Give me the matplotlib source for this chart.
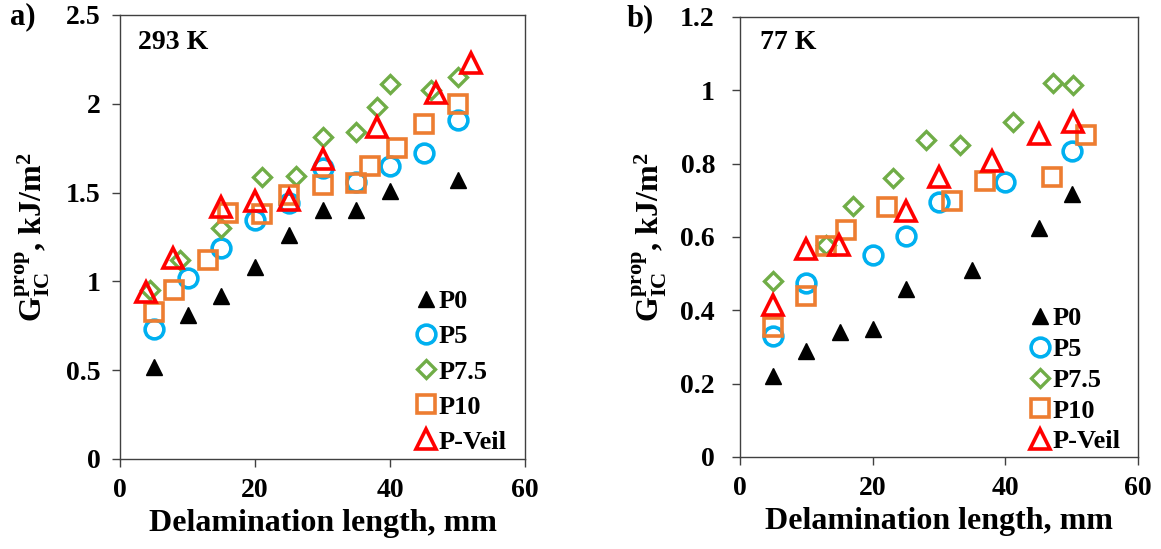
import numpy as np
import matplotlib
matplotlib.use("Agg")
import matplotlib.pyplot as plt

plt.rcParams['font.family'] = 'Liberation Serif'
plt.rcParams['font.weight'] = 'bold'
plt.rcParams['mathtext.fontset'] = 'custom'
plt.rcParams['mathtext.rm'] = 'Liberation Serif:bold'
plt.rcParams['mathtext.bf'] = 'Liberation Serif:bold'
plt.rcParams['mathtext.it'] = 'Liberation Serif:bold'

# ---- 293 K data ----
a_p0_x = [5, 10, 15, 20, 25, 30, 35, 40, 50]
a_p0_y = [0.52, 0.81, 0.92, 1.08, 1.26, 1.40, 1.40, 1.51, 1.57]
a_p5_x = [5, 10, 15, 20, 25, 30, 35, 40, 45, 50]
a_p5_y = [0.73, 1.02, 1.19, 1.345, 1.44, 1.64, 1.56, 1.65, 1.725, 1.91]
a_p75_x = [4.5, 8.9, 14.9, 21.1, 26, 30, 35, 38, 40, 46, 50]
a_p75_y = [0.95, 1.12, 1.30, 1.59, 1.595, 1.815, 1.84, 1.98, 2.11, 2.08, 2.15]
a_p10_x = [5, 8, 13, 16, 21, 25, 30, 35, 37, 41, 45, 50]
a_p10_y = [0.83, 0.95, 1.12, 1.387, 1.378, 1.486, 1.543, 1.556, 1.65, 1.753, 1.885, 1.997]
a_pv_x = [3.9, 7.9, 15, 20, 25, 30, 38, 46.8, 52]
a_pv_y = [0.94, 1.13, 1.42, 1.45, 1.46, 1.69, 1.87, 2.06, 2.23]

# ---- 77 K data ----
b_p0_x = [5, 10, 15, 20, 25, 35, 45, 50]
b_p0_y = [0.222, 0.29, 0.34, 0.349, 0.458, 0.511, 0.625, 0.717]
b_p5_x = [5, 10, 20, 25, 30, 40, 50]
b_p5_y = [0.329, 0.475, 0.552, 0.604, 0.695, 0.75, 0.835]
b_p75_x = [5, 12.9, 17, 23.1, 28.1, 33.1, 41.1, 47.2, 50.2]
b_p75_y = [0.479, 0.577, 0.684, 0.761, 0.865, 0.852, 0.913, 1.02, 1.014]
b_p10_x = [5, 10, 13, 16, 22.1, 32, 37, 47.1, 52.1]
b_p10_y = [0.355, 0.438, 0.575, 0.62, 0.682, 0.697, 0.754, 0.765, 0.879]
b_pv_x = [5, 10, 14.9, 25, 30, 38, 45.1, 50.2]
b_pv_y = [0.415, 0.567, 0.579, 0.67, 0.765, 0.806, 0.881, 0.914]

labels = ['P0', 'P5', 'P7.5', 'P10', 'P-Veil']

W, H = 1161, 549
fig = plt.figure(figsize=(W / 100, H / 100), dpi=100)
ax1 = fig.add_axes([120 / W, 1 - 459 / H, 405 / W, 444 / H])
ax2 = fig.add_axes([740 / W, 1 - 457 / H, 398 / W, 440 / H])


def draw(ax, series, ylim, yticks, ytl, title, tpos, lspace, lanchor, ypad, ylpad):
    styles = [
        dict(marker='^', color='black', ms=12, mfc='black', mec='black', mew=1),
        dict(marker='o', color='#00B0F0', ms=13.5, mfc='none', mec='#00B0F0', mew=2.6),
        dict(marker='D', color='#70AD47', ms=9.5, mfc='none', mec='#70AD47', mew=2.4),
        dict(marker='s', color='#ED7D31', ms=13.5, mfc='none', mec='#ED7D31', mew=2.6),
        dict(marker='^', color='#FF0000', ms=14, mfc='none', mec='#FF0000', mew=2.6),
    ]
    for (x, y), st, lab in zip(series, styles, labels):
        ax.plot(x, y, linestyle='none', label=lab, **st)
    ax.set_xlim(0, 60)
    ax.set_ylim(*ylim)
    ax.set_xticks([0, 20, 40, 60])
    ax.set_yticks(yticks)
    ax.set_yticklabels(ytl)
    ax.tick_params(direction='out', length=6, width=1, colors='#404040',
                   labelcolor='black', labelsize=20)
    ax.tick_params(axis='x', pad=8)
    ax.tick_params(axis='y', pad=ypad)
    for s in ax.spines.values():
        s.set_color('#404040')
        s.set_linewidth(1)
    for t in ax.get_xticklabels() + ax.get_yticklabels():
        t.set_fontweight('bold')
    ax.set_xlabel('Delamination length, mm', fontsize=23, fontweight='bold', labelpad=4)
    ax.set_ylabel(r'$\mathrm{G_{IC}^{prop}}$, kJ/m$^\mathrm{2}$', fontsize=23,
                  fontweight='bold', labelpad=ylpad)
    ax.text(tpos[0], tpos[1], title, transform=ax.transAxes, fontsize=20,
            fontweight='bold', va='center', ha='left')
    ax.legend(loc='lower right', bbox_to_anchor=lanchor, frameon=False,
              handletextpad=0.02, handlelength=0.9, labelspacing=lspace,
              borderaxespad=0, borderpad=0, prop={'weight': 'bold', 'size': 19})


draw(ax1, [(a_p0_x, a_p0_y), (a_p5_x, a_p5_y), (a_p75_x, a_p75_y),
           (a_p10_x, a_p10_y), (a_pv_x, a_pv_y)],
     (0, 2.5), [0, 0.5, 1, 1.5, 2, 2.5], ['0', '0.5', '1', '1.5', '2', '2.5'],
     '293 K', (0.044, 0.939), 0.44, (0.955, 0.012), 8, 10)
draw(ax2, [(b_p0_x, b_p0_y), (b_p5_x, b_p5_y), (b_p75_x, b_p75_y),
           (b_p10_x, b_p10_y), (b_pv_x, b_pv_y)],
     (0, 1.2), [0, 0.2, 0.4, 0.6, 0.8, 1.0, 1.2],
     ['0', '0.2', '0.4', '0.6', '0.8', '1', '1.2'],
     '77 K', (0.05, 0.941), 0.28, (0.955, 0.008), 12, 8)

fig.text(10 / W, 1 - 17 / H, 'a)', fontsize=22, fontweight='bold', va='center', ha='left')
fig.text(627 / W, 1 - 19 / H, 'b)', fontsize=22, fontweight='bold', va='center', ha='left')

fig.savefig('out.png', dpi=100)
